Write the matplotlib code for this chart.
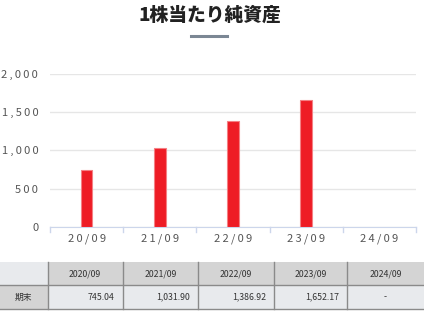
import matplotlib
matplotlib.use("Agg")
import matplotlib.pyplot as plt
from matplotlib.patches import Rectangle
from matplotlib.lines import Line2D
from matplotlib.ticker import FuncFormatter

plt.rcParams['font.family'] = ['Noto Sans CJK JP', 'DejaVu Sans']

# データ
titulo = "1株当たり純資産"
anos = ["20/09", "21/09", "22/09", "23/09", "24/09"]
valores = [745.04, 1031.90, 1386.92, 1652.17, None]
cabecalho = ["2020/09", "2021/09", "2022/09", "2023/09", "2024/09"]
linha_label = "期末"
linha_textos = ["745.04", "1,031.90", "1,386.92", "1,652.17", "-"]
yticks = [0, 500, 1000, 1500, 2000]

W, H = 424, 313
fig = plt.figure(figsize=(W / 100, H / 100), dpi=100)


def fx(px):
    return px / W


def fy(py):
    return 1 - py / H


def espacado(s):
    return "\u2009".join(s)


# titulo + underline
fig.text(fx(210), fy(15), titulo, ha='center', va='center', fontsize=13.5,
         fontweight='heavy', color='#222222')
fig.add_artist(Line2D([fx(191), fx(227)], [fy(35.5), fy(35.5)], color='#7b8794', lw=2.2))

# grafico
ax = fig.add_axes([fx(50), fy(227), fx(416) - fx(50), fy(73.5) - fy(227)])
xs = list(range(len(anos)))
for i, v in enumerate(valores):
    if v is not None:
        ax.bar(i, v, width=0.16, color='#ee1c25', edgecolor='#f48084', linewidth=0.8, zorder=3)

ax.set_xlim(-0.5, len(anos) - 0.5)
ax.set_ylim(0, 2000)
ax.set_yticks(yticks)
ax.yaxis.set_major_formatter(FuncFormatter(lambda v, p: espacado(f"{int(v):,}")))
ax.grid(axis='y', color='#e6e6e6', lw=1, zorder=0)
for s in ['top', 'right', 'left']:
    ax.spines[s].set_visible(False)
ax.spines['bottom'].set_color('#ccd6eb')
ax.tick_params(axis='y', length=0, pad=8.5, labelsize=8, labelcolor='#555555')
ax.set_xticks([x for x in xs])
ax.set_xticklabels([espacado(a) for a in anos])
ax.tick_params(axis='x', length=0, pad=5, labelsize=8, labelcolor='#555555')
for b in [i - 0.5 for i in range(len(anos) + 1)]:
    ax.plot([b, b], [0, -0.035], transform=ax.get_xaxis_transform(), color='#ccd6eb',
            lw=1, clip_on=False)

# tabela
cols = [0, 47.7, 122.7, 198, 273.7, 347, 424]
y0, y1, y2 = 262, 285, 309
cinza = '#d4d4d4'
claro = '#e8eaed'
for c in range(len(cols) - 1):
    xa, xb = cols[c], cols[c + 1]
    cor_h = claro if c == 0 else cinza
    cor_d = cinza if c == 0 else claro
    fig.add_artist(Rectangle((fx(xa), fy(y1)), fx(xb) - fx(xa), fy(y0) - fy(y1),
                             facecolor=cor_h, edgecolor='none'))
    fig.add_artist(Rectangle((fx(xa), fy(y2)), fx(xb) - fx(xa), fy(y1) - fy(y2),
                             facecolor=cor_d, edgecolor='none'))
for xb in cols[1:-1]:
    fig.add_artist(Line2D([fx(xb), fx(xb)], [fy(y0), fy(y2)], color='#8a8a8a', lw=1))
for yy in [y1, y2]:
    fig.add_artist(Line2D([0, 1], [fy(yy), fy(yy)], color='#8a8a8a', lw=1))

fs_tab = 6.3
fig.text(fx(cols[0] + cols[1]) / 2, fy((y1 + y2) / 2), linha_label, ha='center',
         va='center', fontsize=fs_tab, color='#333333')
for c in range(len(cabecalho)):
    xa, xb = cols[c + 1], cols[c + 2]
    fig.text(fx((xa + xb) / 2), fy((y0 + y1) / 2), cabecalho[c], ha='center', va='center',
             fontsize=fs_tab, color='#333333')
    if linha_textos[c] == "-":
        fig.text(fx((xa + xb) / 2), fy((y1 + y2) / 2), linha_textos[c], ha='center',
                 va='center', fontsize=fs_tab, color='#333333')
    else:
        fig.text(fx(xb - 8), fy((y1 + y2) / 2), linha_textos[c], ha='right', va='center',
                 fontsize=fs_tab, color='#333333')

fig.savefig("out.png", dpi=100)
